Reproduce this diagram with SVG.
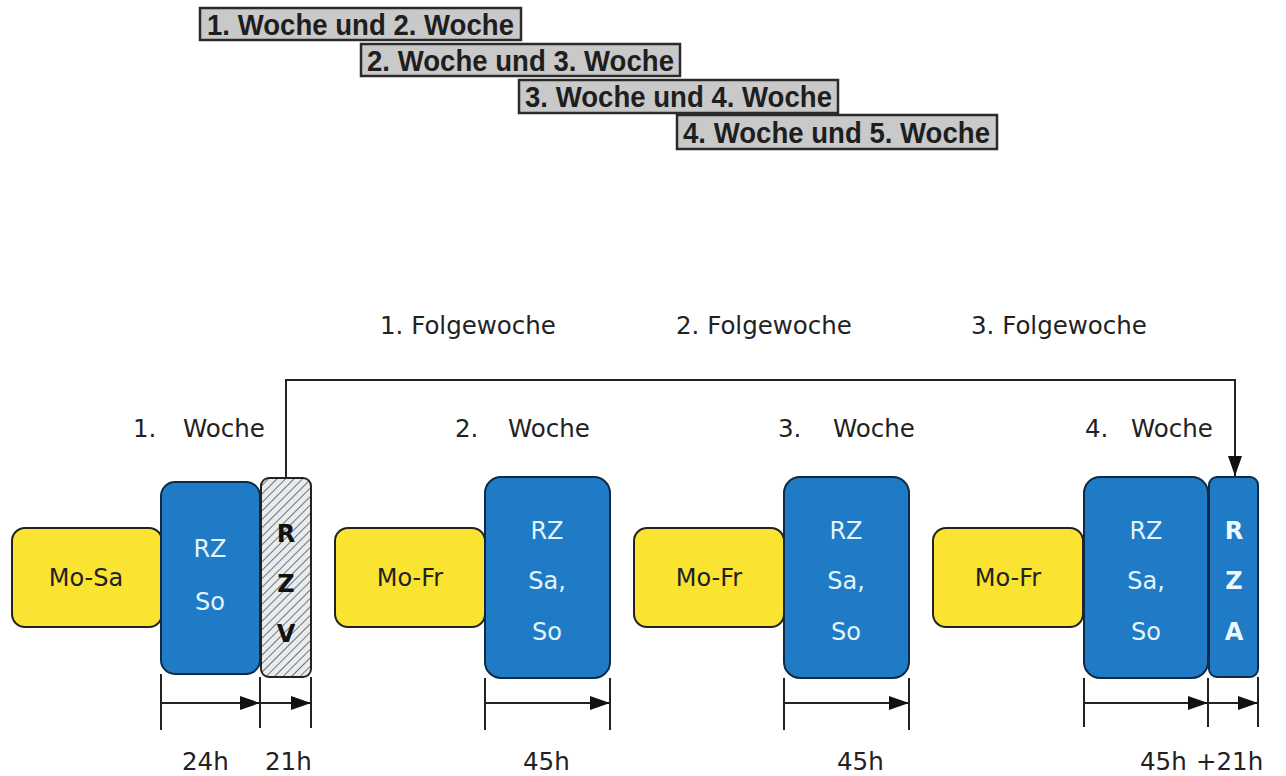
<svg xmlns="http://www.w3.org/2000/svg" width="1286" height="776" viewBox="0 0 1286 776">
<defs>
<style>
.hdr{fill:#c9c9c9;stroke:#2a2a2a;stroke-width:2.5}
.hdrt{font-family:"Liberation Sans",Arial,sans-serif;font-weight:bold;font-size:30px;fill:#1e1e1e}
.lbl{font-family:"DejaVu Sans",Verdana,sans-serif;font-size:24.5px;fill:#222}
.yel{fill:#fbe331;stroke:#222;stroke-width:2}
.blu{fill:#1f7bc5;stroke:#0f2a45;stroke-width:2}
.bt{font-family:"DejaVu Sans",Verdana,sans-serif;font-size:24px;fill:#e3f4ff;text-anchor:middle}
.yt{font-family:"DejaVu Sans",Verdana,sans-serif;font-size:24px;fill:#222;text-anchor:middle}
.bold{font-family:"DejaVu Sans",Verdana,sans-serif;font-weight:bold;font-size:24px;text-anchor:middle}
.ln{stroke:#222;stroke-width:2;fill:none}
</style>
<pattern id="hatch" patternUnits="userSpaceOnUse" width="6" height="6" patternTransform="rotate(45)">
<rect width="6" height="6" fill="#e9ecef"/>
<line x1="0" y1="0" x2="0" y2="6" stroke="#6d7478" stroke-width="2"/>
</pattern>
<marker id="ah" viewBox="0 0 20 14" refX="20" refY="7" markerWidth="20" markerHeight="14" markerUnits="userSpaceOnUse" orient="auto">
<path d="M0,0 L20,7 L0,14 Z" fill="#111"/>
</marker>
</defs>
<rect width="1286" height="776" fill="#fff"/>

<g id="header1"><rect class="hdr" x="200" y="8" width="321" height="32"/><text class="hdrt" x="207" y="35" textLength="307" lengthAdjust="spacingAndGlyphs">1. Woche und 2. Woche</text></g>
<g id="header2"><rect class="hdr" x="361" y="44" width="319" height="32"/><text class="hdrt" x="367" y="71" textLength="307" lengthAdjust="spacingAndGlyphs">2. Woche und 3. Woche</text></g>
<g id="header3"><rect class="hdr" x="519" y="80" width="319" height="33"/><text class="hdrt" x="525" y="107" textLength="307" lengthAdjust="spacingAndGlyphs">3. Woche und 4. Woche</text></g>
<g id="header4"><rect class="hdr" x="677" y="115" width="320" height="34"/><text class="hdrt" x="683" y="143" textLength="307" lengthAdjust="spacingAndGlyphs">4. Woche und 5. Woche</text></g>

<g id="folge">
<text class="lbl" x="380" y="334">1. Folgewoche</text>
<text class="lbl" x="676" y="334">2. Folgewoche</text>
<text class="lbl" x="971" y="334">3. Folgewoche</text>
</g>
<g id="wochen">
<text class="lbl" y="437"><tspan x="133">1.</tspan><tspan x="183">Woche</tspan></text>
<text class="lbl" y="437"><tspan x="455">2.</tspan><tspan x="508">Woche</tspan></text>
<text class="lbl" y="437"><tspan x="778">3.</tspan><tspan x="833">Woche</tspan></text>
<text class="lbl" y="437"><tspan x="1085">4.</tspan><tspan x="1131">Woche</tspan></text>
</g>

<g id="w1-mosa"><rect class="yel" x="12" y="528" width="150" height="99" rx="13"/><text class="yt" x="86" y="586">Mo-Sa</text></g>
<g id="w1-rz"><rect class="blu" x="161" y="482" width="99" height="192" rx="14"/><text class="bt" x="210" y="557">RZ</text><text class="bt" x="210" y="610">So</text></g>
<g id="w1-rzv"><rect x="261" y="478" width="50" height="199" rx="8" fill="url(#hatch)" stroke="#222" stroke-width="2"/>
<text class="bold" x="286" y="542" fill="#111">R</text><text class="bold" x="286" y="592" fill="#111">Z</text><text class="bold" x="286" y="642" fill="#111">V</text></g>

<g id="w2-mofr"><rect class="yel" x="335" y="528" width="150" height="99" rx="13"/><text class="yt" x="410" y="586">Mo-Fr</text></g>
<g id="w2-rz"><rect class="blu" x="485" y="477" width="125" height="201" rx="16"/><text class="bt" x="547" y="539">RZ</text><text class="bt" x="547" y="589">Sa,</text><text class="bt" x="547" y="640">So</text></g>

<g id="w3-mofr"><rect class="yel" x="634" y="528" width="150" height="99" rx="13"/><text class="yt" x="709" y="586">Mo-Fr</text></g>
<g id="w3-rz"><rect class="blu" x="784" y="477" width="125" height="201" rx="16"/><text class="bt" x="846" y="539">RZ</text><text class="bt" x="846" y="589">Sa,</text><text class="bt" x="846" y="640">So</text></g>

<g id="w4-mofr"><rect class="yel" x="933" y="528" width="150" height="99" rx="13"/><text class="yt" x="1008" y="586">Mo-Fr</text></g>
<g id="w4-rz"><rect class="blu" x="1084" y="477" width="124" height="201" rx="16"/><text class="bt" x="1146" y="539">RZ</text><text class="bt" x="1146" y="589">Sa,</text><text class="bt" x="1146" y="640">So</text></g>
<g id="w4-rza"><rect class="blu" x="1209" y="477" width="49" height="200" rx="8"/>
<text class="bold" x="1234" y="539" fill="#eef8ff">R</text><text class="bold" x="1234" y="589" fill="#eef8ff">Z</text><text class="bold" x="1234" y="640" fill="#eef8ff">A</text></g>

<g id="connectors">
<path class="ln" d="M286,477 V380 H1235 V476" marker-end="url(#ah)"/>
<path class="ln" d="M161,674 V730 M260,677 V728 M311,677 V728"/>
<line class="ln" x1="161" y1="703" x2="260" y2="703" marker-end="url(#ah)"/>
<line class="ln" x1="260" y1="703" x2="311" y2="703" marker-end="url(#ah)"/>
<path class="ln" d="M485,678 V730 M610,678 V730"/>
<line class="ln" x1="485" y1="703" x2="610" y2="703" marker-end="url(#ah)"/>
<path class="ln" d="M784,678 V730 M909,678 V730"/>
<line class="ln" x1="784" y1="703" x2="909" y2="703" marker-end="url(#ah)"/>
<path class="ln" d="M1084,678 V727 M1208,678 V727 M1258,677 V727"/>
<line class="ln" x1="1084" y1="703" x2="1208" y2="703" marker-end="url(#ah)"/>
<line class="ln" x1="1208" y1="703" x2="1258" y2="703" marker-end="url(#ah)"/>
</g>

<g id="hours">
<text class="lbl" x="182" y="770">24h</text>
<text class="lbl" x="265" y="770">21h</text>
<text class="lbl" x="523" y="770">45h</text>
<text class="lbl" x="837" y="770">45h</text>
<text class="lbl" x="1140" y="770">45h</text>
<text class="lbl" x="1196" y="770">+21h</text>
</g>
</svg>
